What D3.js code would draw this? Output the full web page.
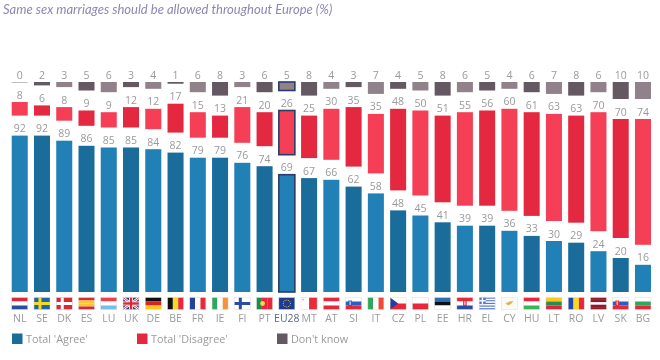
<!DOCTYPE html>
<html>
<head>
<meta charset="utf-8">
<script src="https://cdn.jsdelivr.net/npm/d3@7"></script>
<style>
    html, body { margin: 0; padding: 0; background: #fff; }
    /* the source picture is a soft screenshot */
    svg { display: block; font-family: "Open Sans", sans-serif; filter: blur(0.45px); }
</style>
</head>
<body>
<svg width="660" height="360"></svg>
<script>
const countries = ['NL','SE','DK','ES','LU','UK','DE','BE','FR','IE','FI','PT','EU28','MT','AT','SI','IT','CZ','PL','EE','HR','EL','CY','HU','LT','RO','LV','SK','BG'];
const agree    = [92,92,89,86,85,85,84,82,79,79,76,74,69,67,66,62,58,48,45,41,39,39,36,33,30,29,24,20,16];
const disagree = [8,6,8,9,9,12,12,17,15,13,21,20,26,25,30,35,35,48,50,51,55,56,60,61,63,63,70,70,74];
const dontKnow = [0,2,3,5,6,3,4,1,6,8,3,6,5,8,4,3,7,4,5,8,6,5,4,6,7,8,6,10,10];

const legendLabels = ["Total 'Agree'", "Total 'Disagree'", "Don't know"];
const titleText = 'Same sex marriages should be allowed throughout Europe (%)';

// light / dark colour of every series, bars alternate between them
const seriesColors = [
    ['#2180b5', '#1a6c9b'],
    ['#f43f56', '#e3283f'],
    ['#90818a', '#645862']
];

const flagStripes = {
    NL: ['h', ['#d8283a', '#fff', '#2a4da0']],
    SE: ['h', ['#1d64a8']],
    DK: ['h', ['#d8283a']],
    ES: ['h', ['#d8283a', '#f6c92e', '#f6c92e', '#d8283a']],
    LU: ['h', ['#ee3f4d', '#fff', '#78bce8']],
    UK: ['h', ['#27407f']],
    DE: ['h', ['#111', '#dd1f26', '#f8c91c']],
    BE: ['v', ['#111', '#f8d920', '#e8273a']],
    FR: ['v', ['#24409a', '#fff', '#e8273a']],
    IE: ['v', ['#2ea85a', '#fff', '#f5933a']],
    FI: ['h', ['#fff']],
    PT: ['v', ['#1f8a4c', '#e8273a', '#e8273a']],
    EU28: ['h', ['#1f3a93']],
    MT: ['v', ['#fff', '#ea2a38']],
    AT: ['h', ['#e8273a', '#fff', '#e8273a']],
    SI: ['h', ['#fff', '#2a5ec0', '#e8273a']],
    IT: ['v', ['#2ea85a', '#fff', '#ea4b3c']],
    CZ: ['h', ['#fff', '#e8273a']],
    PL: ['h', ['#fff', '#e8273a']],
    EE: ['h', ['#2b6fb5', '#111', '#fff']],
    HR: ['h', ['#e8273a', '#fff', '#2a4da0']],
    EL: ['h', ['#5a78c8', '#fff', '#5a78c8', '#fff', '#5a78c8', '#fff', '#5a78c8', '#fff', '#5a78c8']],
    CY: ['h', ['#fbfbf6']],
    HU: ['h', ['#e8273a', '#fff', '#3fb35a']],
    LT: ['h', ['#f8c91c', '#2b8a50', '#d8283a']],
    RO: ['v', ['#1f49b0', '#f8d920', '#e8273a']],
    LV: ['h', ['#8f1a2c', '#8f1a2c', '#fff', '#8f1a2c', '#8f1a2c']],
    SK: ['h', ['#fff', '#2a5ec0', '#e8273a']],
    BG: ['h', ['#fff', '#2ea85a', '#e8273a']]
};

function addRect(g, x, y, w, h, fill) {
    g.append('rect').attr('x', x).attr('y', y).attr('width', w).attr('height', h).attr('fill', fill);
}

function drawNordicCross(g, cross) {
    addRect(g, 4.5, 0, 3, 12, cross);
    addRect(g, 0, 4.5, 16, 3, cross);
}

function drawFlagExtras(g, code) {
    if (code === 'SE') drawNordicCross(g, '#f8d920');
    if (code === 'DK') drawNordicCross(g, '#fff');
    if (code === 'FI') drawNordicCross(g, '#2a4da0');
    if (code === 'UK') {
        g.append('path').attr('d', 'M0,0L16,12M16,0L0,12').attr('stroke', '#fff').attr('stroke-width', 2.4);
        g.append('path').attr('d', 'M0,0L16,12M16,0L0,12').attr('stroke', '#d8283a').attr('stroke-width', 0.9);
        addRect(g, 6, 0, 4, 12, '#fff');
        addRect(g, 0, 4, 16, 4, '#fff');
        addRect(g, 6.8, 0, 2.4, 12, '#d8283a');
        addRect(g, 0, 4.8, 16, 2.4, '#d8283a');
    }
    if (code === 'PT') {
        g.append('circle').attr('cx', 6).attr('cy', 6).attr('r', 2.4).attr('fill', '#f4d84a');
    }
    if (code === 'EU28') {
        g.selectAll('circle').data(d3.range(12)).enter().append('circle')
         .attr('cx', d => 8 + 3.6 * Math.cos(d * Math.PI / 6))
         .attr('cy', d => 6 + 3.6 * Math.sin(d * Math.PI / 6))
         .attr('r', 0.5)
         .attr('fill', '#f8d920');
    }
    if (code === 'CZ') {
        g.append('path').attr('d', 'M0,0L8,6L0,12Z').attr('fill', '#24409a');
    }
    if (code === 'SI' || code === 'SK' || code === 'HR') {
        const cx = code === 'HR' ? 8 : 4.5;
        addRect(g, cx - 1.8, 3, 3.6, 5.5, code === 'SI' ? '#2a5ec0' : '#e8273a');
        addRect(g, cx - 0.5, 3.8, 1, 3.6, '#fff');
    }
    if (code === 'EL') {
        addRect(g, 0, 0, 6.6, 6.6, '#5a78c8');
        addRect(g, 2.6, 0, 1.4, 6.6, '#fff');
        addRect(g, 0, 2.6, 6.6, 1.4, '#fff');
    }
    if (code === 'CY') {
        g.append('path').attr('d', 'M4,6L8,4L12,3.4L10,6L7,8Z').attr('fill', '#e8b04a');
    }
    if (code === 'MT') {
        addRect(g, 1.2, 1.2, 1.6, 1.6, '#bbb');
    }
}

function drawFlag(g, code) {
    const dir = flagStripes[code][0];
    const stripes = flagStripes[code][1];
    const band = d3.scaleBand().domain(d3.range(stripes.length)).range([0, dir === 'h' ? 12 : 16]);

    g.selectAll('rect.stripe')
     .data(stripes)
     .enter()
     .append('rect')
     .attr('class', 'stripe')
     .attr('x', (d, i) => dir === 'h' ? 0 : band(i))
     .attr('y', (d, i) => dir === 'h' ? band(i) : 0)
     .attr('width', dir === 'h' ? 16 : band.bandwidth())
     .attr('height', dir === 'h' ? band.bandwidth() : 12)
     .attr('fill', d => d);

    drawFlagExtras(g, code);

    g.append('rect')
     .attr('width', 16)
     .attr('height', 12)
     .attr('fill', 'none')
     .attr('stroke', '#ddd')
     .attr('stroke-width', 0.5);
}

function drawChart() {
    const svg = d3.select('svg');

    const attr_area = { left: 8.6, right: 654.1, bottom: 292, top: 82, gap: 20 };
    const seriesGap = attr_area.gap;

    const table = countries.map((c, i) => ({ code: c, agree: agree[i], disagree: disagree[i], dontKnow: dontKnow[i] }));
    const stack = d3.stack().keys(['agree', 'disagree', 'dontKnow'])(table);

    const scaleX = d3.scaleBand()
                     .domain(countries)
                     .range([attr_area.left, attr_area.right])
                     .paddingInner(0.28)
                     .paddingOuter(0.14);

    // plot height without the two white gaps that hold the labels
    const scaleY = d3.scaleLinear()
                     .domain([0, 100])
                     .range([attr_area.bottom, attr_area.top + 2 * seriesGap]);

    stack.forEach((layer, s) => {
        const group = svg.append('g').attr('class', `series-${layer.key}`);
        const shift = s * seriesGap;

        group.selectAll('rect')
             .data(layer)
             .enter()
             .append('rect')
             .attr('x', d => scaleX(d.data.code))
             .attr('y', d => scaleY(d[1]) - shift)
             .attr('width', scaleX.bandwidth())
             // a zero still shows as a hairline in the source
             .attr('height', d => Math.max(0.8, scaleY(d[0]) - scaleY(d[1])))
             .attr('fill', (d, i) => d[1] === d[0] ? '#b5b0b3' : seriesColors[s][i % 2])
             .attr('stroke', d => d.data.code === 'EU28' ? '#2b3c66' : 'none')
             .attr('stroke-width', 1.6);

        group.selectAll('text')
             .data(layer)
             .enter()
             .append('text')
             .attr('x', d => scaleX(d.data.code) + scaleX.bandwidth() / 2)
             .attr('y', d => scaleY(s === 2 ? 100 : d[1]) - shift - 3.5)
             .attr('text-anchor', 'middle')
             .attr('font-size', 10.5)
             .attr('fill', '#9a9a9a')
             .text(d => d[1] - d[0]);
    });

    const flagG = svg.selectAll('g.flag')
                     .data(countries)
                     .enter()
                     .append('svg')
                     .attr('class', 'flag')
                     .attr('x', d => scaleX(d))
                     .attr('y', 297.5)
                     .attr('width', scaleX.bandwidth())
                     .attr('height', 12)
                     .attr('viewBox', '0 0 16 12')
                     .attr('preserveAspectRatio', 'none');
    flagG.each(function(d) { drawFlag(d3.select(this), d); });

    const axisX = d3.axisBottom(scaleX).tickSize(0).tickPadding(0);
    const gAxis = svg.append('g')
                     .attr('transform', 'translate(0, 315)')
                     .call(axisX);
    gAxis.select('.domain').remove();
    gAxis.selectAll('text')
         .attr('font-family', '"Open Sans", sans-serif')
         .attr('font-size', 10.5)
         .attr('fill', d => d === 'EU28' ? '#5a6a8e' : '#9a9a9a');

    const legendX = d3.scaleOrdinal().domain(legendLabels).range([12, 137, 277]);
    const legend = svg.selectAll('g.legend')
                      .data(legendLabels)
                      .enter()
                      .append('g')
                      .attr('class', 'legend')
                      .attr('transform', d => `translate(${legendX(d)}, 333.5)`);
    legend.append('rect')
          .attr('width', 10.5)
          .attr('height', 10.5)
          .attr('fill', (d, i) => seriesColors[i][1]);
    legend.append('text')
          .attr('x', 14)
          .attr('y', 9.5)
          .attr('font-size', 10.8)
          .attr('fill', '#9a9a9a')
          .text(d => d);

    svg.append('text')
       .attr('x', 3)
       .attr('y', 14)
       .attr('font-family', 'Lato, sans-serif')
       .attr('font-style', 'italic')
       .attr('font-size', 13)
       .attr('fill', '#8f86b4')
       .text(titleText);
}

drawChart();
</script>
</body>
</html>
